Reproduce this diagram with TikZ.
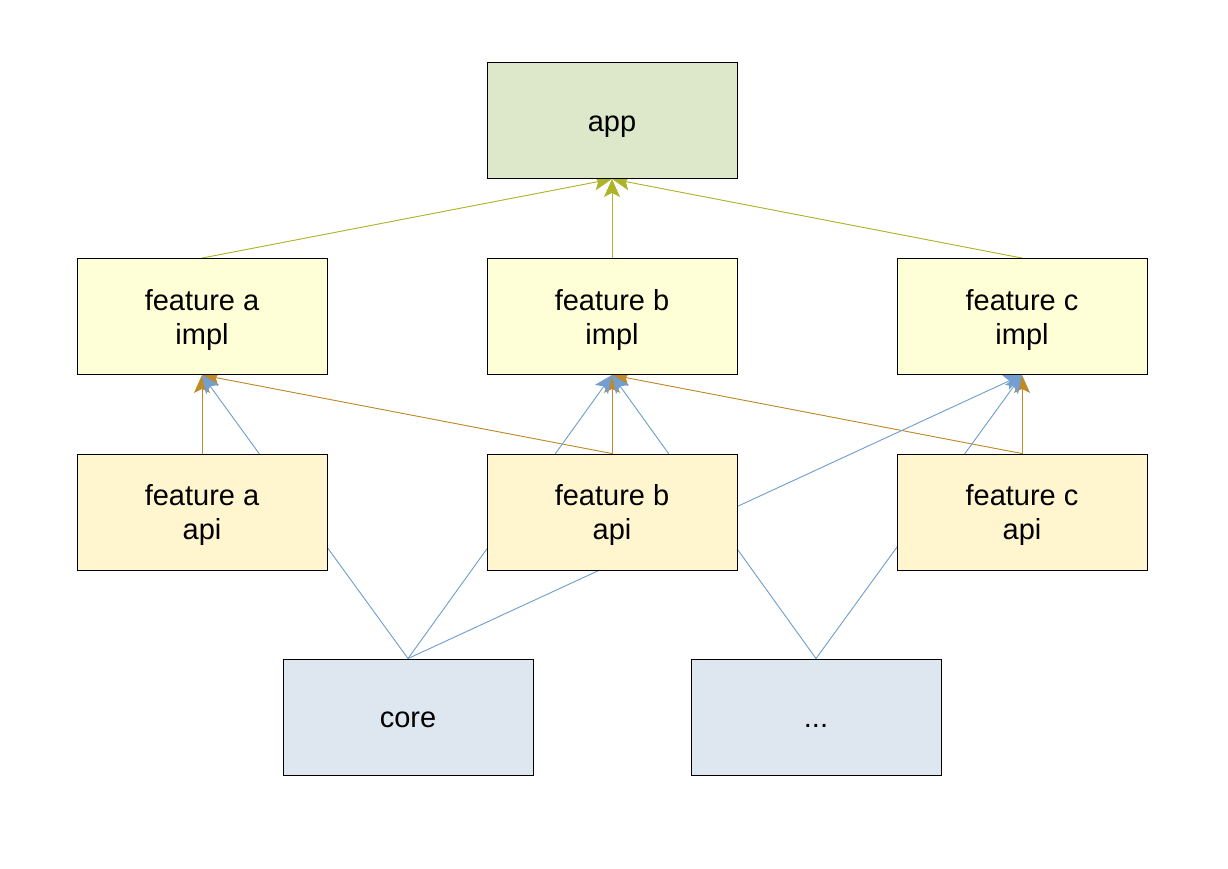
\documentclass[tikz,border=0pt]{standalone}
\usepackage{fontspec}
\setmainfont{Liberation Sans}
\usetikzlibrary{arrows.meta,backgrounds}
\definecolor{appfill}{HTML}{DDE8CB}
\definecolor{implfill}{HTML}{FFFFD7}
\definecolor{apifill}{HTML}{FFF5CE}
\definecolor{corefill}{HTML}{DEE6EF}
\definecolor{greenline}{HTML}{AEB42A}
\definecolor{orangeline}{HTML}{BF8A2A}
\definecolor{blueline}{HTML}{729FCF}
% box label, lowered slightly inside its box (extents kept as they are)
\newcommand{\boxtext}[1]{\raisebox{-4pt}[\height][\depth]{\begin{tabular}{@{}c@{}}#1\end{tabular}}}
\tikzset{
  box/.style={draw=black, line width=0.9pt, minimum width=250pt, minimum height=116pt,
    inner sep=0pt, align=center, font=\fontsize{29}{34}\selectfont},
  appbox/.style={box, fill=appfill},
  implbox/.style={box, fill=implfill},
  apibox/.style={box, fill=apifill},
  corebox/.style={box, fill=corefill},
  dep/.style={line width=0.9pt, -{Stealth[length=18pt, width=16pt, inset=4pt]}},
  greendep/.style={dep, draw=greenline, fill=greenline},
  orangedep/.style={dep, draw=orangeline, fill=orangeline},
  bluedep/.style={dep, draw=blueline, fill=blueline},
}
\begin{document}
\begin{tikzpicture}[x=1pt, y=-1pt]
  \useasboundingbox (0,0) rectangle (1228,868);

  % modules
  \node[appbox] (app) at (612,120.5) {\boxtext{app}};
  \node[implbox] (ia) at (202,316.5) {\boxtext{feature a\\impl}};
  \node[implbox] (ib) at (612,316.5) {\boxtext{feature b\\impl}};
  \node[implbox] (ic) at (1022,316.5) {\boxtext{feature c\\impl}};
  \node[apibox] (aa) at (202,512) {\boxtext{feature a\\api}};
  \node[apibox] (ab) at (612,512) {\boxtext{feature b\\api}};
  \node[apibox] (ac) at (1022,512) {\boxtext{feature c\\api}};
  \node[corebox] (core) at (408,717) {\boxtext{core}};
  \node[corebox] (etc) at (816,717) {\boxtext{...}};

  % dependencies, drawn behind the boxes
  \begin{scope}[on background layer]
    % impl -> app
    \draw[greendep] (ia.north) -- (app.south);
    \draw[greendep] (ib.north) -- (app.south);
    \draw[greendep] (ic.north) -- (app.south);
    % api -> impl
    \draw[orangedep] (aa.north) -- (ia.south);
    \draw[orangedep] (ab.north) -- (ia.south);
    \draw[orangedep] (ab.north) -- (ib.south);
    \draw[orangedep] (ac.north) -- (ib.south);
    \draw[orangedep] (ac.north) -- (ic.south);
    % core / shared modules -> impl
    \draw[bluedep] (core.north) -- (ia.south);
    \draw[bluedep] (core.north) -- (ib.south);
    \draw[bluedep] (core.north) -- (ic.south);
    \draw[bluedep] (etc.north) -- (ib.south);
    \draw[bluedep] (etc.north) -- (ic.south);
  \end{scope}
\end{tikzpicture}
\end{document}
